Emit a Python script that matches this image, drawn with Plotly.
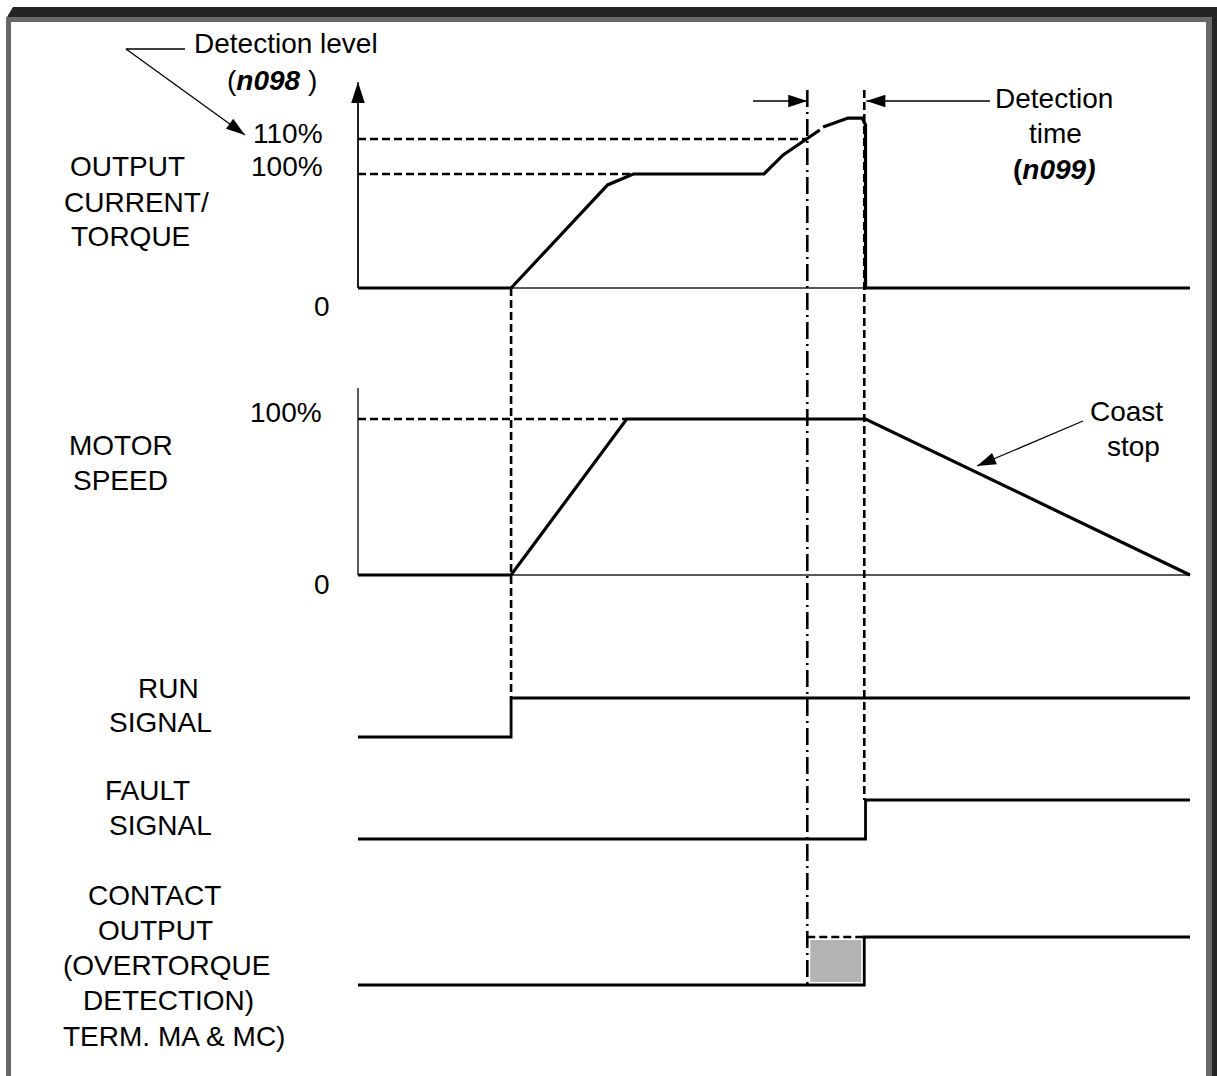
import plotly.graph_objects as go

W, H = 1217, 1076
FONT = "Liberation Sans, Arial, Helvetica, sans-serif"
FS = 28

# ---- data (time in arbitrary units, levels in % or logic 0/1) ----
t_run = 18.4        # run command
t_detect = 54.0     # current passes detection level
t_trip = 60.85      # detection time elapsed
t_end = 100.0

current_t = [0, 18.4, 30.0, 33.1, 48.8, 51.1, 55.5, None, 55.9, 58.9, 60.6, 61.0, 61.0, 100]
current_lvl = [0, 0, 90.4, 100, 100, 116.7, 138.6, None, 141.2, 149.1, 149.1, 143.0, 0, 0]
current_100_end = 33.1
detect_level = 130.7          # drawn height of the "110%" line (not to scale)

speed_t = [0, 18.4, 32.3, 61.0, 100]
speed_lvl = [0, 0, 100, 100, 0]

run_t = [0, 18.4, 18.4, 100]
run_lvl = [0, 0, 1, 1]

fault_t = [0, 61.0, 61.0, 100]
fault_lvl = [0, 0, 1, 1]

contact_t = [0, 60.85, 60.85, 100]
contact_lvl = [0, 0, 1, 1]

# ---- layout geometry (pixels) ----
X0_PX, PX_PER_T = 358, 8.32
# axis: (baseline px, px per unit, top px, bottom px)
panels = {
    "y": (288, 1.14, 30, 300),
    "y2": (575, 1.56, 370, 590),
    "y3": (737, 39, 680, 750),
    "y4": (839, 39, 785, 850),
    "y5": (985, 48, 925, 1000),
}


def lvl(axis, py):
    base, k, _, _ = panels[axis]
    return (base - py) / k


def tt(px):
    return (px - X0_PX) / PX_PER_T


def line(xs, ys, yaxis, width=3.0, dash="solid", color="black"):
    return go.Scatter(x=xs, y=ys, yaxis=yaxis, mode="lines",
                      line=dict(color=color, width=width, dash=dash),
                      hoverinfo="skip", showlegend=False)


def arrow(xs, ys, yaxis, size=20, width=1.3):
    return [
        line(xs, ys, yaxis, width=width),
        go.Scatter(x=xs[-2:], y=ys[-2:], yaxis=yaxis, mode="markers",
                   marker=dict(symbol="arrow", angleref="previous", size=size,
                               color="black", line=dict(width=0)),
                   hoverinfo="skip", showlegend=False),
    ]


DASH = "8px,4px"
DASHDOT = "17px,5px,2px,5px"
DW = 2.6

fig = go.Figure()

# current panel
fig.add_trace(line([0, t_end], [0, 0], "y", width=1.3, color="#222"))
fig.add_trace(line([0, 0], [0, lvl("y", 100)], "y", width=1.3))
fig.add_trace(line([0, t_detect], [detect_level, detect_level], "y", width=DW, dash=DASH))
fig.add_trace(line([0, current_100_end], [100, 100], "y", width=DW, dash=DASH))
fig.add_trace(line(current_t, current_lvl, "y", width=3.2))
for tr in arrow([0, 0], [0, lvl("y", 82)], "y", size=22):
    fig.add_trace(tr)

# speed panel
fig.add_trace(line([0, t_end], [0, 0], "y2", width=1.3, color="#222"))
fig.add_trace(line([0, 0], [0, lvl("y2", 388)], "y2", width=1.3))
fig.add_trace(line([0, speed_t[2]], [100, 100], "y2", width=DW, dash=DASH))
fig.add_trace(line(speed_t, speed_lvl, "y2", width=3.2))

# logic signals
fig.add_trace(line(run_t, run_lvl, "y3", width=2.8))
fig.add_trace(line(fault_t, fault_lvl, "y4", width=2.8))
fig.add_trace(go.Scatter(x=[t_detect, t_trip, t_trip, t_detect, t_detect], y=[0, 0, 1, 1, 0],
                         yaxis="y5", mode="lines", fill="toself", fillcolor="#b3b3b3",
                         line=dict(color="white", width=6), hoverinfo="skip", showlegend=False))
fig.add_trace(line([t_detect, t_trip], [1, 1], "y5", width=DW, dash=DASH))
fig.add_trace(line(contact_t, contact_lvl, "y5", width=2.8))

# pointers
for tr in arrow([tt(185), tt(126), tt(245)], [lvl("y", 49), lvl("y", 49), lvl("y", 135)], "y", size=20):
    fig.add_trace(tr)
for tr in arrow([tt(753), t_detect], [lvl("y", 101)] * 2, "y", size=20):
    fig.add_trace(tr)
for tr in arrow([tt(990), 61.1], [lvl("y", 101)] * 2, "y", size=20):
    fig.add_trace(tr)
for tr in arrow([tt(1083), tt(977)], [lvl("y2", 421), lvl("y2", 466)], "y2", size=20):
    fig.add_trace(tr)


def vref(t, top_px, bot_px, dash):
    return dict(type="line", xref="x", yref="paper", x0=t, x1=t,
                y0=1 - top_px / H, y1=1 - bot_px / H,
                line=dict(color="black", width=DW, dash=dash), layer="above")


def rect(x0, y0, x1, y1, color):
    return dict(type="rect", xref="paper", yref="paper", x0=x0 / W, x1=x1 / W,
                y0=1 - y1 / H, y1=1 - y0 / H, fillcolor=color, line=dict(width=0), layer="below")


top_bar = "M {:.5f},{:.5f} L {:.5f},{:.5f} L 1,{:.5f} L 1,{:.5f} Z".format(
    7 / W, 1 - 17 / H, 13 / W, 1 - 7 / H, 1 - 7 / H, 1 - 17 / H)
shapes = [
    vref(t_run, 288, 698, DASH),
    vref(t_detect, 90, 985, DASHDOT),
    vref(t_trip, 90, 800, DASH),
    dict(type="path", xref="paper", yref="paper", path=top_bar, fillcolor="#242424",
         line=dict(width=0), layer="below"),
    rect(6, 17, 1206, 22, "#686868"),
    rect(6, 17, 11, H, "#686868"),
    rect(1206, 17, 1212, H, "#686868"),
    rect(1212, 7, W, H, "#242424"),
]

# text labels: (text, x px, y px, anchor)
labels = [
    ("Detection level", 192, 43, "left"),
    ("(<b><i>n098</i></b> )", 272, 80, "center"),
    ("110%", 325, 133, "right"),
    ("100%", 325, 167, "right"),
    ("0", 322, 307, "center"),
    ("OUTPUT", 127, 167, "center"),
    ("CURRENT/", 136, 202, "center"),
    ("TORQUE", 130, 236, "center"),
    ("Detection", 1054, 99, "center"),
    ("time", 1055, 133, "center"),
    ("<b>(<i>n099)</i></b>", 1054, 169, "center"),
    ("100%", 324, 412, "right"),
    ("0", 322, 585, "center"),
    ("MOTOR", 121, 445, "center"),
    ("SPEED", 120, 480, "center"),
    ("Coast", 1126, 411, "center"),
    ("stop", 1133, 446, "center"),
    ("RUN", 168, 688, "center"),
    ("SIGNAL", 160, 722, "center"),
    ("FAULT", 147, 790, "center"),
    ("SIGNAL", 160, 825, "center"),
    ("CONTACT", 154, 895, "center"),
    ("OUTPUT", 155, 930, "center"),
    ("(OVERTORQUE", 166, 965, "center"),
    ("DETECTION)", 168, 1000, "center"),
    ("TERM. MA &amp; MC)", 174, 1036, "center"),
]
annotations = [
    dict(text=txt, x=x / W, y=1 - y / H, xref="paper", yref="paper", xanchor=anc,
         yanchor="middle", showarrow=False, font=dict(family=FONT, size=FS, color="black"))
    for txt, x, y, anc in labels
]

layout = dict(
    width=W, height=H, margin=dict(l=0, r=0, t=0, b=0),
    paper_bgcolor="white", plot_bgcolor="white", showlegend=False,
    xaxis=dict(domain=[0, 1], range=[tt(0), tt(W)], visible=False, fixedrange=True),
    shapes=shapes, annotations=annotations,
)
for name, (base, k, top, bot) in panels.items():
    key = "yaxis" if name == "y" else "yaxis" + name[1:]
    layout[key] = dict(domain=[1 - bot / H, 1 - top / H], range=[-(bot - base) / k, (base - top) / k],
                       visible=False, fixedrange=True, anchor="x")
fig.update_layout(**layout)

fig.write_html("out.html", config={"displayModeBar": False},
               post_script="document.body.style.margin='0';document.body.style.overflow='hidden';")
